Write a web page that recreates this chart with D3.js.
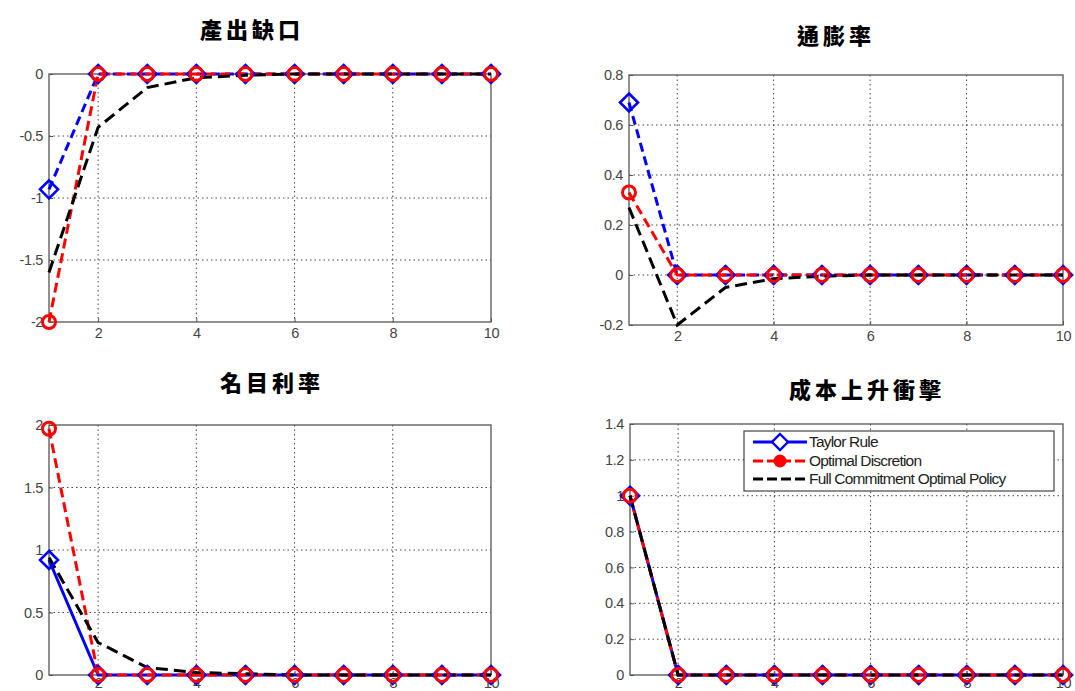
<!DOCTYPE html>
<html>
<head>
<meta charset="utf-8">
<script src="https://cdn.jsdelivr.net/npm/d3@7"></script>
<style>
  html, body { margin: 0; padding: 0; background: #fff; }
  svg { display: block; }
</style>
</head>
<body>
<svg id="chart" width="1075" height="691"></svg>
<script>
// Impulse responses to a cost-push shock, periods 1..10
const periods = [1, 2, 3, 4, 5, 6, 7, 8, 9, 10];

const seriesNames = ["Taylor Rule", "Optimal Discretion", "Full Commitment Optimal Policy"];

// 產出缺口 (output gap)
const outputGapTaylor      = [-0.93, 0, 0, 0, 0, 0, 0, 0, 0, 0];
const outputGapDiscretion  = [-2.0, 0, 0, 0, 0, 0, 0, 0, 0, 0];
const outputGapCommitment  = [-1.6, -0.43, -0.11, -0.03, -0.01, 0, 0, 0, 0, 0];

// 通膨率 (inflation)
const inflationTaylor      = [0.69, 0, 0, 0, 0, 0, 0, 0, 0, 0];
const inflationDiscretion  = [0.33, 0, 0, 0, 0, 0, 0, 0, 0, 0];
const inflationCommitment  = [0.27, -0.2, -0.05, -0.015, -0.005, 0, 0, 0, 0, 0];

// 名目利率 (nominal interest rate)
const rateTaylor           = [0.92, 0, 0, 0, 0, 0, 0, 0, 0, 0];
const rateDiscretion       = [1.97, 0, 0, 0, 0, 0, 0, 0, 0, 0];
const rateCommitment       = [0.94, 0.26, 0.06, 0.02, 0.01, 0, 0, 0, 0, 0];

// 成本上升衝擊 (cost-push shock)
const shockTaylor          = [1, 0, 0, 0, 0, 0, 0, 0, 0, 0];
const shockDiscretion      = [1, 0, 0, 0, 0, 0, 0, 0, 0, 0];
const shockCommitment      = [1, 0, 0, 0, 0, 0, 0, 0, 0, 0];

const titles = ["產出缺口", "通膨率", "名目利率", "成本上升衝擊"];

const xTicks = [2, 4, 6, 8, 10];
const yTicksOutput    = [0, -0.5, -1, -1.5, -2];
const yTicksInflation = [0.8, 0.6, 0.4, 0.2, 0, -0.2];
const yTicksRate      = [0, 0.5, 1, 1.5, 2];
const yTicksShock     = [0, 0.2, 0.4, 0.6, 0.8, 1, 1.2, 1.4];

// panel layout: plot box in pixels, y domain, title position
const panels = [
  { title: titles[0], x0: 49,  x1: 491,  yTop: 74,  yBot: 322, dom: [-2, 0],    ticks: yTicksOutput,
    tx: 252, ty: 38, xPad: 6, data: [outputGapTaylor, outputGapDiscretion, outputGapCommitment], taylorDashed: true },
  { title: titles[1], x0: 629, x1: 1063, yTop: 75,  yBot: 325, dom: [-0.2, 0.8], ticks: yTicksInflation,
    tx: 836, ty: 44, xPad: 6, data: [inflationTaylor, inflationDiscretion, inflationCommitment], taylorDashed: true },
  { title: titles[2], x0: 49,  x1: 491,  yTop: 425, yBot: 675, dom: [0, 2],     ticks: yTicksRate,
    tx: 272, ty: 391, xPad: 3, data: [rateTaylor, rateDiscretion, rateCommitment], taylorDashed: false },
  { title: titles[3], x0: 630, x1: 1063, yTop: 424, yBot: 675, dom: [0, 1.4],   ticks: yTicksShock,
    tx: 867, ty: 398, xPad: 3, data: [shockTaylor, shockDiscretion, shockCommitment], taylorDashed: false, legend: true }
];

const colors = ["#0000ff", "#ff0000", "#000000"];
const svg = d3.select("#chart");
const fmt = v => String(v);

function diamondPath(cx, cy, r) {
  return `M${cx},${cy - r}L${cx + r},${cy}L${cx},${cy + r}L${cx - r},${cy}Z`;
}

panels.forEach(p => {
  const g = svg.append("g");
  const x = d3.scaleLinear().domain([1, 10]).range([p.x0, p.x1]);
  const y = d3.scaleLinear().domain(p.dom).range([p.yBot, p.yTop]);

  // grid
  g.selectAll(".vgrid").data(xTicks.filter(t => t < 10)).join("line")
    .attr("x1", d => x(d)).attr("x2", d => x(d))
    .attr("y1", p.yTop).attr("y2", p.yBot)
    .attr("stroke", "#444").attr("stroke-width", 1).attr("stroke-dasharray", "1.5,3");
  g.selectAll(".hgrid").data(p.ticks.filter(t => t !== p.dom[0] && t !== p.dom[1])).join("line")
    .attr("x1", p.x0).attr("x2", p.x1)
    .attr("y1", d => y(d)).attr("y2", d => y(d))
    .attr("stroke", "#444").attr("stroke-width", 1).attr("stroke-dasharray", "1.5,3");

  // frame
  g.append("rect").attr("x", p.x0).attr("y", p.yTop)
    .attr("width", p.x1 - p.x0).attr("height", p.yBot - p.yTop)
    .attr("fill", "none").attr("stroke", "#555").attr("stroke-width", 1.3);

  // axes (ticks point inward)
  const xAxis = d3.axisBottom(x).tickValues(xTicks).tickSizeInner(-4).tickSizeOuter(0).tickPadding(p.xPad);
  const gx = g.append("g").attr("transform", `translate(0,${p.yBot})`).call(xAxis);
  const yAxis = d3.axisLeft(y).tickValues(p.ticks).tickFormat(fmt).tickSizeInner(-4).tickSizeOuter(0).tickPadding(6);
  const gy = g.append("g").attr("transform", `translate(${p.x0},0)`).call(yAxis);
  [gx, gy].forEach(a => {
    a.select(".domain").remove();
    a.selectAll("line").attr("stroke", "#555");
    a.selectAll("text").attr("font-family", "Liberation Sans, Arial, sans-serif")
      .attr("font-size", 14.5).attr("letter-spacing", -0.4).attr("fill", "#444");
  });

  // series
  const line = d3.line().x((d, i) => x(periods[i])).y(d => y(d));
  const dashes = [p.taylorDashed ? "9,5" : null, "10,5", "12,6"];
  p.data.forEach((vals, s) => {
    g.append("path").datum(vals).attr("d", line)
      .attr("fill", "none").attr("stroke", colors[s]).attr("stroke-width", 3)
      .attr("stroke-dasharray", dashes[s]);
  });
  // markers: diamonds for Taylor Rule, circles for Optimal Discretion
  g.selectAll(".dia").data(p.data[0]).join("path")
    .attr("d", (d, i) => diamondPath(x(periods[i]), y(d), 9))
    .attr("fill", "none").attr("stroke", colors[0]).attr("stroke-width", 2.6);
  g.selectAll(".circ").data(p.data[1]).join("circle")
    .attr("cx", (d, i) => x(periods[i])).attr("cy", d => y(d)).attr("r", 6.5)
    .attr("fill", "none").attr("stroke", colors[1]).attr("stroke-width", 3);

  // title
  svg.append("text").attr("x", p.tx).attr("y", p.ty).attr("text-anchor", "middle")
    .attr("font-family", "Noto Sans CJK TC, Noto Sans CJK SC, sans-serif")
    .attr("font-weight", 900).attr("font-size", 22).attr("letter-spacing", 4)
    .attr("fill", "#000").text(p.title);

  if (p.legend) {
    const lg = svg.append("g");
    lg.append("rect").attr("x", 744).attr("y", 431).attr("width", 310).attr("height", 60)
      .attr("fill", "#fff").attr("stroke", "#444").attr("stroke-width", 1.2);
    const rows = [442, 461, 479];
    seriesNames.forEach((name, s) => {
      const ry = rows[s];
      lg.append("line").attr("x1", 753).attr("x2", 807).attr("y1", ry).attr("y2", ry)
        .attr("stroke", colors[s]).attr("stroke-width", 3)
        .attr("stroke-dasharray", s === 0 ? null : "10,4");
      if (s === 0) {
        lg.append("path").attr("d", diamondPath(780, ry, 8))
          .attr("fill", "#fff").attr("stroke", colors[0]).attr("stroke-width", 2.4);
      } else if (s === 1) {
        lg.append("circle").attr("cx", 780).attr("cy", ry).attr("r", 6.5)
          .attr("fill", colors[1]);
      }
      lg.append("text").attr("x", 809).attr("y", ry + 5)
        .attr("font-family", "Liberation Sans, Arial, sans-serif")
        .attr("font-size", 15.5).attr("letter-spacing", -0.8).attr("fill", "#222").text(name);
    });
  }
});
</script>
</body>
</html>
